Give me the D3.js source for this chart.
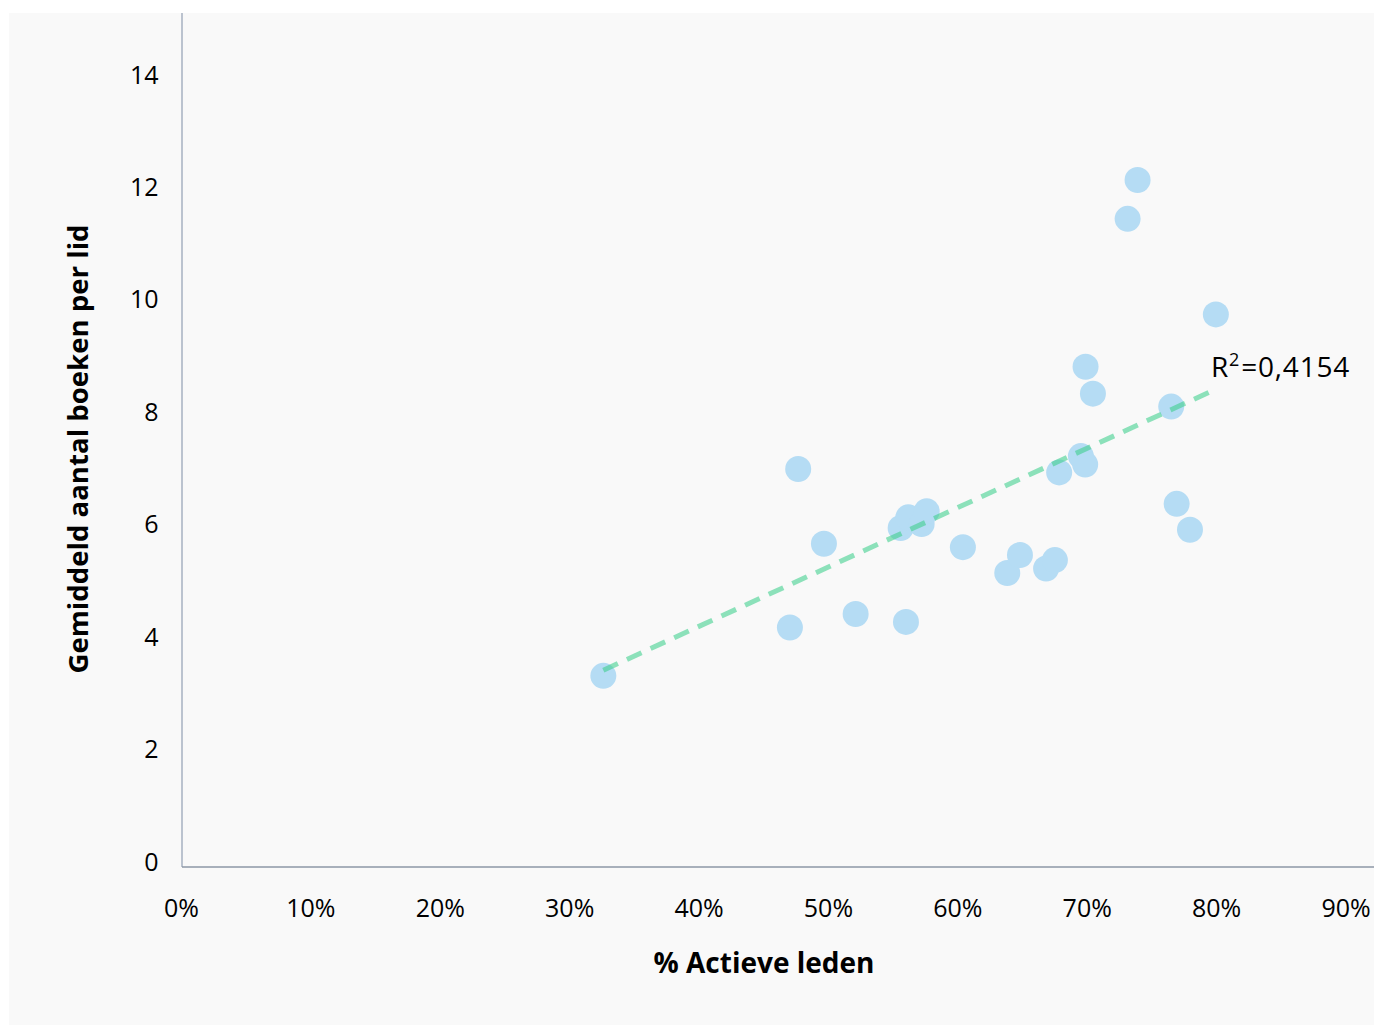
<!DOCTYPE html>
<html>
<head>
<meta charset="utf-8">
<script src="https://cdn.jsdelivr.net/npm/d3@7"></script>
<style>
  html, body { margin: 0; padding: 0; background: #ffffff; }
  svg { display: block; }
  text { font-family: "Open Sans", "Noto Sans", sans-serif; fill: #000; }
</style>
</head>
<body>
<svg id="chart" width="1374" height="1025"></svg>
<script>
// % actieve leden (x) and gemiddeld aantal boeken per lid (y)
const pctActive = [32.64, 47.06, 47.70, 49.69, 52.14, 56.03, 55.62, 56.21, 57.24, 57.63,
                   60.43, 63.86, 64.84, 66.86, 67.54, 67.87, 69.55, 69.88, 69.91, 70.48,
                   73.16, 73.93, 76.53, 76.95, 77.98, 79.98];
const booksPerMember = [3.40, 4.26, 7.08, 5.75, 4.50, 4.36, 6.03, 6.22, 6.10, 6.33,
                        5.69, 5.23, 5.55, 5.31, 5.46, 7.02, 7.31, 7.16, 8.90, 8.42,
                        11.53, 12.22, 8.19, 6.46, 6.00, 9.83];
// linear trend line end points
const trendX = [32.64, 79.98];
const trendY = [3.50, 8.50];
const rSquaredLabel = "0,4154";
const xTicks = [0, 10, 20, 30, 40, 50, 60, 70, 80, 90];
const yTicks = [0, 2, 4, 6, 8, 10, 12, 14];

const svg = d3.select("#chart");

// panel background
svg.append("rect").attr("x", 9).attr("y", 13).attr("width", 1365).attr("height", 1012)
  .attr("fill", "#f9f9f9");

const x = d3.scaleLinear().domain([0, 90]).range([181, 1345.5]);
const y = d3.scaleLinear().domain([0, 14]).range([867, 80]);

// axis lines
svg.append("line").attr("x1", 182).attr("x2", 182).attr("y1", 13).attr("y2", y(0))
  .attr("stroke", "#9aa6b8").attr("stroke-width", 1.3);
svg.append("line").attr("x1", 182).attr("x2", 1374).attr("y1", y(0)).attr("y2", y(0))
  .attr("stroke", "#8d97a6").attr("stroke-width", 1.3);

// y tick labels
const yAxis = d3.axisLeft(y).tickValues(yTicks).tickSize(0).tickPadding(0)
  .tickFormat(d => d3.format("d")(d));
const gy = svg.append("g").attr("transform", "translate(158.5,-5)").call(yAxis);
gy.select(".domain").remove();
gy.selectAll("text").style("font-size", "25px").style("font-family", "'Open Sans', sans-serif")
  .attr("fill", "#000");

// x tick labels
const xAxis = d3.axisBottom(x).tickValues(xTicks).tickSize(0).tickPadding(0)
  .tickFormat(d => d + "%");
const gx = svg.append("g").attr("transform", "translate(0,899)").call(xAxis);
gx.select(".domain").remove();
gx.selectAll("text").style("font-size", "25px").style("font-family", "'Open Sans', sans-serif")
  .attr("fill", "#000");

// points
const pts = pctActive.map((v, i) => ({ x: v, y: booksPerMember[i] }));
svg.append("g").selectAll("circle").data(pts).join("circle")
  .attr("cx", d => x(d.x)).attr("cy", d => y(d.y)).attr("r", 13)
  .attr("fill", "#b5dcf4");

// trend line
const line = d3.line().x(d => x(d[0])).y(d => y(d[1]));
svg.append("path").datum(trendX.map((v, i) => [v, trendY[i]]))
  .attr("d", line).attr("fill", "none")
  .attr("stroke", "#3ccf8c").attr("stroke-opacity", 0.58)
  .attr("stroke-width", 5).attr("stroke-dasharray", "16,10");

// R² label
const rl = svg.append("text").attr("x", 1211).attr("y", 376.5)
  .style("font-size", "28px").style("letter-spacing", "0.8px");
rl.append("tspan").text("R");
rl.append("tspan").attr("dy", -11).style("font-size", "18px").text("2");
rl.append("tspan").attr("dy", 11).attr("dx", 1).text("=" + rSquaredLabel);

// axis titles
svg.append("text").attr("x", 764).attr("y", 973).attr("text-anchor", "middle")
  .style("font-size", "28px").style("font-weight", "bold").text("% Actieve leden");
svg.append("text").attr("transform", "translate(88,449) rotate(-90)")
  .attr("text-anchor", "middle")
  .style("font-size", "27.6px").style("font-weight", "bold")
  .text("Gemiddeld aantal boeken per lid");
</script>
</body>
</html>
